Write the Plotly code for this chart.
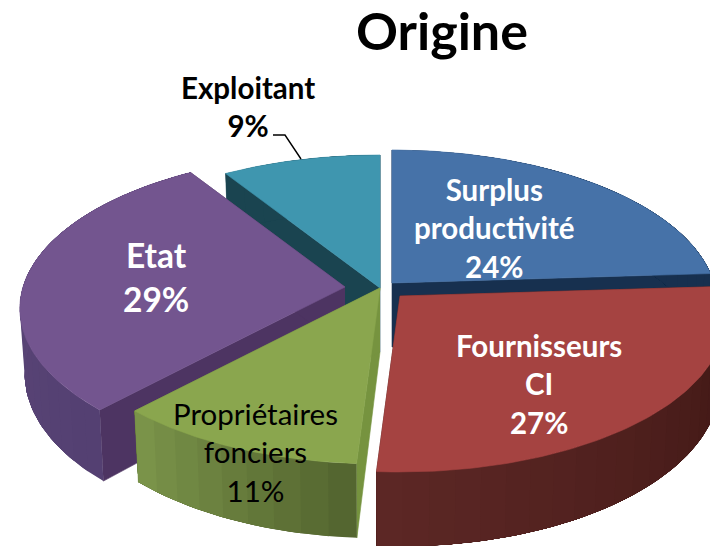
import numpy as np
import plotly.graph_objects as go

# ---- data ----
categories = ["Surplus productivité", "Fournisseurs CI", "Propriétaires fonciers", "Etat", "Exploitant"]
values = [24, 27, 11, 29, 9]

# ---- styling of the exploded 3-D pie ----
apex_x = [392, 400, 380, 345, 380]
apex_y = [283, 296, 288, 287, 288]
top_colors = ["#4672A8", "#A54341", "#8AA64E", "#73558F", "#3F96AF"]
radial_colors = ["#17304F", "#4A1C18", "#76933F", "#4D3462", "#1A4450"]
# rim wall colours at the start and the end of each slice's sweep
rim_start = ["#17304F", "#3D1613", "#546630", "#544072", "#1A4450"]
rim_end = ["#17304F", "#5C2725", "#7A9349", "#5F4A7A", "#1A4450"]
draw_order = [4, 0, 3, 2, 1]
RX, RY, PERSP, DEPTH, TAPER = 322, 151.5, 0.139, 64, 0.985
FONT = "Lato"


def project(angle, radius=1.0):
    """Ground-plane angle (clockwise from 12 o'clock) to offset on screen."""
    u, v = radius * np.sin(angle), radius * np.cos(angle)
    s = 1 / (1 + PERSP * v)
    return RX * u * s, -RY * v * s, s


def mix(a, b, t):
    ca = [int(a[i:i + 2], 16) for i in (1, 3, 5)]
    cb = [int(b[i:i + 2], 16) for i in (1, 3, 5)]
    return "#%02x%02x%02x" % tuple(round(x + (y - x) * t) for x, y in zip(ca, cb))


def poly(fig, xs, ys, color, width=0.6):
    fig.add_trace(go.Scatter(
        x=list(xs), y=list(ys), mode="lines", fill="toself", fillcolor=color,
        line=dict(color=color, width=width), hoverinfo="skip", showlegend=False,
    ))


fig = go.Figure()
total = sum(values)
edges = np.concatenate([[0], np.cumsum(values)]) / total * 2 * np.pi

for i in draw_order:
    a0, a1 = edges[i], edges[i + 1]
    ax, ay = apex_x[i], apex_y[i]
    # radial walls
    for a in (a0, a1):
        dx, dy, s = project(a)
        poly(fig, [ax, ax + dx, ax + dx * TAPER, ax], [ay, ay + dy, ay + dy + DEPTH * s, ay + DEPTH], radial_colors[i])
    # rim wall, in short shaded steps that overlap so no seams show
    steps = max(4, int(np.degrees(a1 - a0) / 4))
    ang = np.linspace(a0, a1, steps + 1)
    for k in range(steps):
        # every step runs on to the end of the slice; the next one paints over it
        sub = np.linspace(ang[k], a1, max(4, 3 * (steps - k)))
        p = [project(a) for a in sub]
        xs = [ax + q[0] for q in p]
        xb = [ax + q[0] * TAPER for q in p]
        yt = [ay + q[1] for q in p]
        yb = [ay + q[1] + DEPTH * q[2] for q in p]
        poly(fig, xs + xb[::-1], yt + yb[::-1], mix(rim_start[i], rim_end[i], k / max(1, steps - 1)), width=0)
    # top face
    ang = np.linspace(a0, a1, 90)
    p = [project(a) for a in ang]
    poly(fig, [ax] + [ax + q[0] for q in p] + [ax], [ay] + [ay + q[1] for q in p] + [ay], top_colors[i])

# leader line of the Exploitant label
fig.add_trace(go.Scatter(x=[273, 285, 301], y=[135, 135, 159], mode="lines",
                         line=dict(color="black", width=1.4), hoverinfo="skip", showlegend=False))


def label(x, y, text, size, color, bold=True):
    fig.add_annotation(x=x, y=y, text=f"<b>{text}</b>" if bold else text, showarrow=False,
                       font=dict(family=FONT, size=size, color=color), align="center",
                       xanchor="center", yanchor="middle")


label(442, 30, "Origine", 52, "black")
label(248, 106, f"Exploitant<br>{values[4]}%", 29.5, "black")
label(494, 228, f"Surplus<br>productivité<br>{values[0]}%", 29.5, "white")
label(156, 277, f"Etat<br>{values[3]}%", 33.5, "white")
label(539, 384, f"Fournisseurs<br>CI<br>{values[1]}%", 29.5, "white")
label(255, 452, f"Propriétaires<br>fonciers<br>{values[2]}%", 29.5, "black", bold=False)

fig.update_xaxes(range=[0, 710], visible=False, fixedrange=True)
fig.update_yaxes(range=[546, 0], visible=False, fixedrange=True)
fig.update_layout(width=710, height=546, margin=dict(l=0, r=0, t=0, b=0),
                  paper_bgcolor="white", plot_bgcolor="white", showlegend=False)
fig.write_html("out.html", config={"displayModeBar": False},
               post_script="document.body.style.margin='0';document.body.style.overflow='hidden';")
